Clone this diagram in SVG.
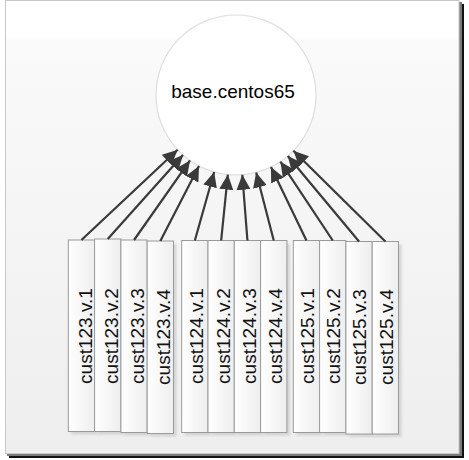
<svg xmlns="http://www.w3.org/2000/svg" width="469" height="460" viewBox="0 0 469 460">
  <style>
    .box { fill: url(#boxFill); stroke: #9a9a9a; stroke-width: 1; }
    .shade { fill: #d4d4d4; filter: url(#soft); }
    .lbl { font-family: "Liberation Sans", Arial, sans-serif; font-size: 19px; fill: #111; text-anchor: middle; }
    .title { font-family: "Liberation Sans", Arial, sans-serif; font-size: 19px; fill: #000; text-anchor: middle; }
    .link { stroke: #3a3a3a; stroke-width: 2.2; fill: none; marker-end: url(#head); }
  </style>
  <defs>
    <linearGradient id="bg" x1="0" y1="0" x2="0" y2="1">
      <stop offset="0" stop-color="#ffffff"/>
      <stop offset="0.08" stop-color="#ffffff"/>
      <stop offset="0.09" stop-color="#fafafa"/>
      <stop offset="1" stop-color="#eeeeee"/>
    </linearGradient>
    <linearGradient id="boxFill" x1="0" y1="0" x2="1" y2="0">
      <stop offset="0" stop-color="#ffffff"/>
      <stop offset="1" stop-color="#eeeeee"/>
    </linearGradient>
    <filter id="soft" x="-20%" y="-5%" width="140%" height="110%">
      <feGaussianBlur stdDeviation="1"/>
    </filter>
    <marker id="head" markerUnits="userSpaceOnUse" markerWidth="15" markerHeight="14" viewBox="0 0 15 14" refX="15" refY="7" orient="auto">
      <path d="M0,0 L15,7 L0,14 Z" fill="#3a3a3a"/>
    </marker>
  </defs>

  <!-- page frame with drop shadow -->
  <rect x="9" y="4" width="455" height="454" fill="#111"/>
  <rect x="7" y="2" width="455" height="454" fill="#7a7a7a"/>
  <rect x="5.5" y="0.5" width="453.5" height="453" fill="url(#bg)" stroke="#c8c8c8" stroke-width="1"/>

  <!-- base image -->
  <g id="base-centos65">
    <circle cx="236" cy="95" r="80" fill="#ffffff" stroke="#dedede" stroke-width="1.2"/>
    <text class="title" x="233" y="98">base.centos65</text>
  </g>

  <!-- customer 123 -->
  <g id="cust123-v1">
    <rect class="shade" x="71.3" y="243" width="26.3" height="191.5"/>
    <rect class="box" x="68.3" y="240" width="26.3" height="191.5"/>
    <text class="lbl" transform="translate(91.5,336) rotate(-90)">cust123.v.1</text>
  </g>
  <g id="cust123-v2">
    <rect class="shade" x="97.6" y="242" width="26.3" height="192.5"/>
    <rect class="box" x="94.6" y="239" width="26.3" height="192.5"/>
    <text class="lbl" transform="translate(117.8,336) rotate(-90)">cust123.v.2</text>
  </g>
  <g id="cust123-v3">
    <rect class="shade" x="123.9" y="243" width="26.3" height="192.5"/>
    <rect class="box" x="120.9" y="240" width="26.3" height="192.5"/>
    <text class="lbl" transform="translate(144.1,336) rotate(-90)">cust123.v.3</text>
  </g>
  <g id="cust123-v4">
    <rect class="shade" x="150.2" y="244" width="26.3" height="192.5"/>
    <rect class="box" x="147.2" y="241" width="26.3" height="192.5"/>
    <text class="lbl" transform="translate(170.2,337) rotate(-90)">cust123.v.4</text>
  </g>

  <!-- customer 124 -->
  <g id="cust124-v1">
    <rect class="shade" x="184.7" y="243.5" width="26.3" height="192"/>
    <rect class="box" x="181.7" y="240.5" width="26.3" height="192"/>
    <text class="lbl" transform="translate(203.3,336) rotate(-90)">cust124.v.1</text>
  </g>
  <g id="cust124-v2">
    <rect class="shade" x="211" y="243.5" width="26.3" height="192"/>
    <rect class="box" x="208" y="240.5" width="26.3" height="192"/>
    <text class="lbl" transform="translate(229.6,336) rotate(-90)">cust124.v.2</text>
  </g>
  <g id="cust124-v3">
    <rect class="shade" x="237.3" y="243.5" width="26.3" height="192"/>
    <rect class="box" x="234.3" y="240.5" width="26.3" height="192"/>
    <text class="lbl" transform="translate(255.9,336) rotate(-90)">cust124.v.3</text>
  </g>
  <g id="cust124-v4">
    <rect class="shade" x="263.6" y="243.5" width="26.3" height="192"/>
    <rect class="box" x="260.6" y="240.5" width="26.3" height="192"/>
    <text class="lbl" transform="translate(282.2,336) rotate(-90)">cust124.v.4</text>
  </g>

  <!-- customer 125 -->
  <g id="cust125-v1">
    <rect class="shade" x="296.3" y="243.5" width="26.3" height="192"/>
    <rect class="box" x="293.3" y="240.5" width="26.3" height="192"/>
    <text class="lbl" transform="translate(313.6,336) rotate(-90)">cust125.v.1</text>
  </g>
  <g id="cust125-v2">
    <rect class="shade" x="322.6" y="243.5" width="26.3" height="192"/>
    <rect class="box" x="319.6" y="240.5" width="26.3" height="192"/>
    <text class="lbl" transform="translate(339.9,336) rotate(-90)">cust125.v.2</text>
  </g>
  <g id="cust125-v3">
    <rect class="shade" x="348.9" y="244.5" width="26.3" height="192.5"/>
    <rect class="box" x="345.9" y="241.5" width="26.3" height="192.5"/>
    <text class="lbl" transform="translate(366.2,337) rotate(-90)">cust125.v.3</text>
  </g>
  <g id="cust125-v4">
    <rect class="shade" x="375.2" y="244.5" width="26.3" height="192.5"/>
    <rect class="box" x="372.2" y="241.5" width="26.3" height="192.5"/>
    <text class="lbl" transform="translate(392.5,337) rotate(-90)">cust125.v.4</text>
  </g>

  <!-- derivation links: each version points at the base image -->
  <g id="connectors">
    <line class="link" x1="81.45" y1="240" x2="177.65" y2="149.74"/>
    <line class="link" x1="107.75" y1="239" x2="183.0" y2="154.92"/>
    <line class="link" x1="134.05" y1="240" x2="189.99" y2="160.44"/>
    <line class="link" x1="160.35" y1="241" x2="199.0" y2="165.93"/>
    <line class="link" x1="194.85" y1="240.5" x2="214.16" y2="171.97"/>
    <line class="link" x1="221.15" y1="240.5" x2="227.85" y2="174.58"/>
    <line class="link" x1="247.45" y1="240.5" x2="242.30" y2="174.75"/>
    <line class="link" x1="273.75" y1="240.5" x2="256.16" y2="172.42"/>
    <line class="link" x1="306.45" y1="240.5" x2="270.96" y2="166.96"/>
    <line class="link" x1="332.75" y1="240.5" x2="280.41" y2="161.55"/>
    <line class="link" x1="359.05" y1="241.5" x2="287.76" y2="156.0"/>
    <line class="link" x1="385.35" y1="241.5" x2="293.4" y2="150.73"/>
  </g>
</svg>
